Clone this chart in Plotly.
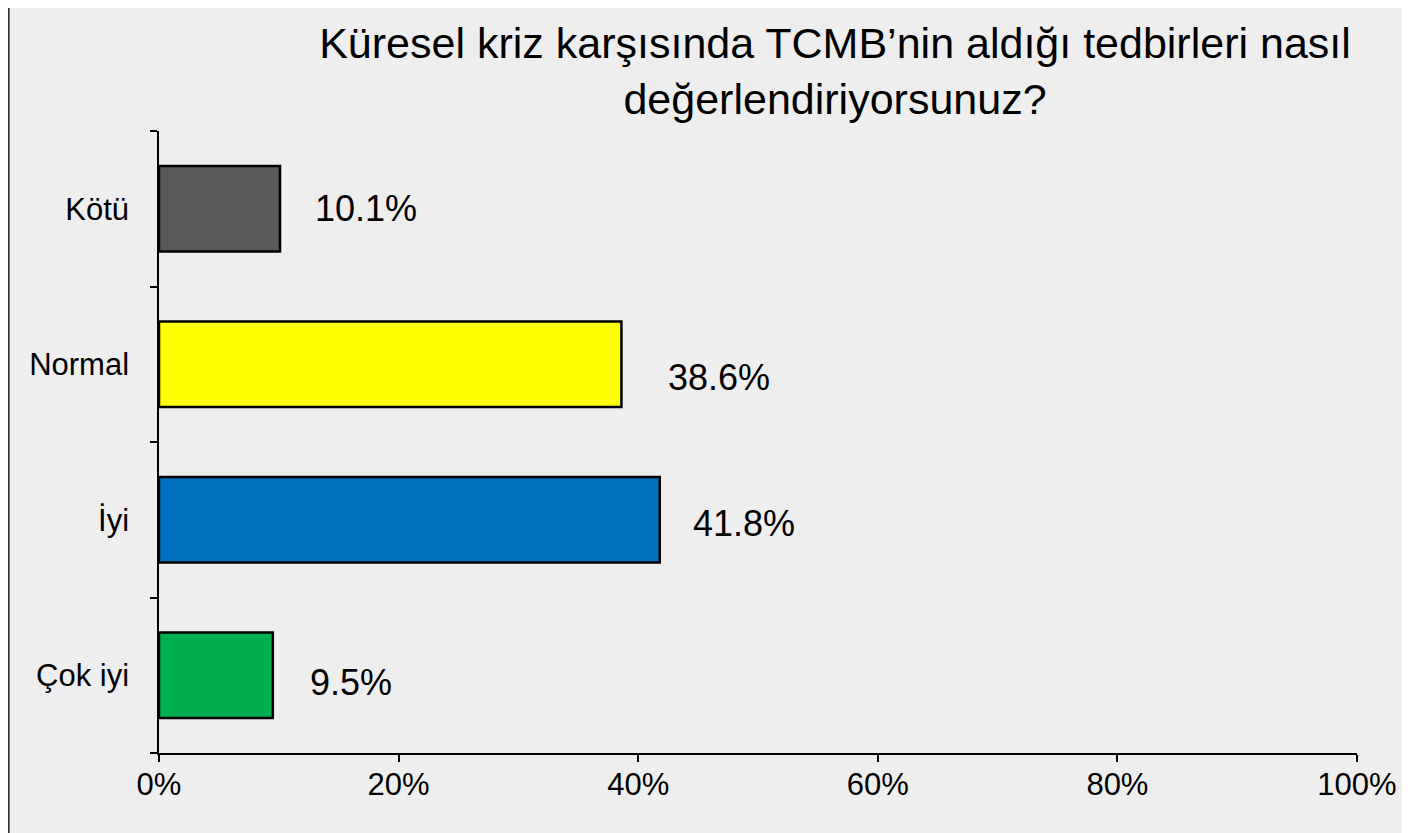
import plotly.graph_objects as go

# Data (top to bottom as shown in the chart)
categories = ["Kötü", "Normal", "İyi", "Çok iyi"]
values = [10.1, 38.6, 41.8, 9.5]
bar_colors = ["#595959", "#FFFF00", "#0070C0", "#00B050"]
tick_vals = [0, 20, 40, 60, 80, 100]
tick_text = ["0%", "20%", "40%", "60%", "80%", "100%"]

title_text = "Küresel kriz karşısında TCMB’nin aldığı tedbirleri nasıl<br>değerlendiriyorsunuz?"

# small per-label nudges so the value labels sit where they do in the original
label_dx = [33, 45, 31, 35]
label_dy = [0, -13, -4, -7]

FONT = "Liberation Sans, Arial, sans-serif"
BG = "#EEEEEE"

fig = go.Figure()
fig.add_trace(go.Bar(
    x=values,
    y=categories,
    orientation="h",
    marker=dict(color=bar_colors, line=dict(color="#000000", width=2.5)),
    hoverinfo="x+y",
    showlegend=False,
))

for cat, val, dx, dy in zip(categories, values, label_dx, label_dy):
    fig.add_annotation(
        x=val, y=cat, text=f"{val:.1f}%",
        showarrow=False, xanchor="left", yanchor="middle",
        xshift=dx, yshift=dy,
        font=dict(family=FONT, size=36, color="#000000"),
    )

# outer frame of the original picture (left edge visible)
fig.add_shape(
    type="rect", xref="paper", yref="paper",
    x0=-0.1255, x1=1.06, y0=-0.2, y1=1.3,
    line=dict(color="#333333", width=2), layer="below",
)

# the page adds an 8px body margin, so margins are trimmed by 8px to compensate
fig.update_layout(
    width=1410, height=833,
    margin=dict(l=151, r=61, t=123, b=88),
    paper_bgcolor=BG, plot_bgcolor=BG,
    bargap=0.45,
    font=dict(family=FONT, color="#000000"),
    title=dict(
        text=title_text,
        x=827 / 1410, xanchor="center", xref="container",
        y=1 - 50 / 833, yanchor="middle", yref="container",
        font=dict(family=FONT, size=43, color="#000000"),
    ),
    xaxis=dict(
        range=[0, 100], tickmode="array", tickvals=tick_vals, ticktext=tick_text,
        showgrid=False, zeroline=False,
        showline=True, linecolor="#000000", linewidth=1.5,
        ticks="outside", ticklen=7, tickcolor="#000000", tickwidth=1.5,
        tickfont=dict(family=FONT, size=31, color="#000000"),
        ticklabelstandoff=-4,
    ),
    yaxis=dict(
        categoryorder="array", categoryarray=categories[::-1],
        tickson="boundaries",
        showgrid=False, zeroline=False,
        showline=True, linecolor="#000000", linewidth=1.5,
        ticks="outside", ticklen=7, tickcolor="#000000", tickwidth=1.5,
        tickfont=dict(family=FONT, size=31, color="#000000"),
        ticklabelstandoff=22,
    ),
)

fig.write_html("out.html")
